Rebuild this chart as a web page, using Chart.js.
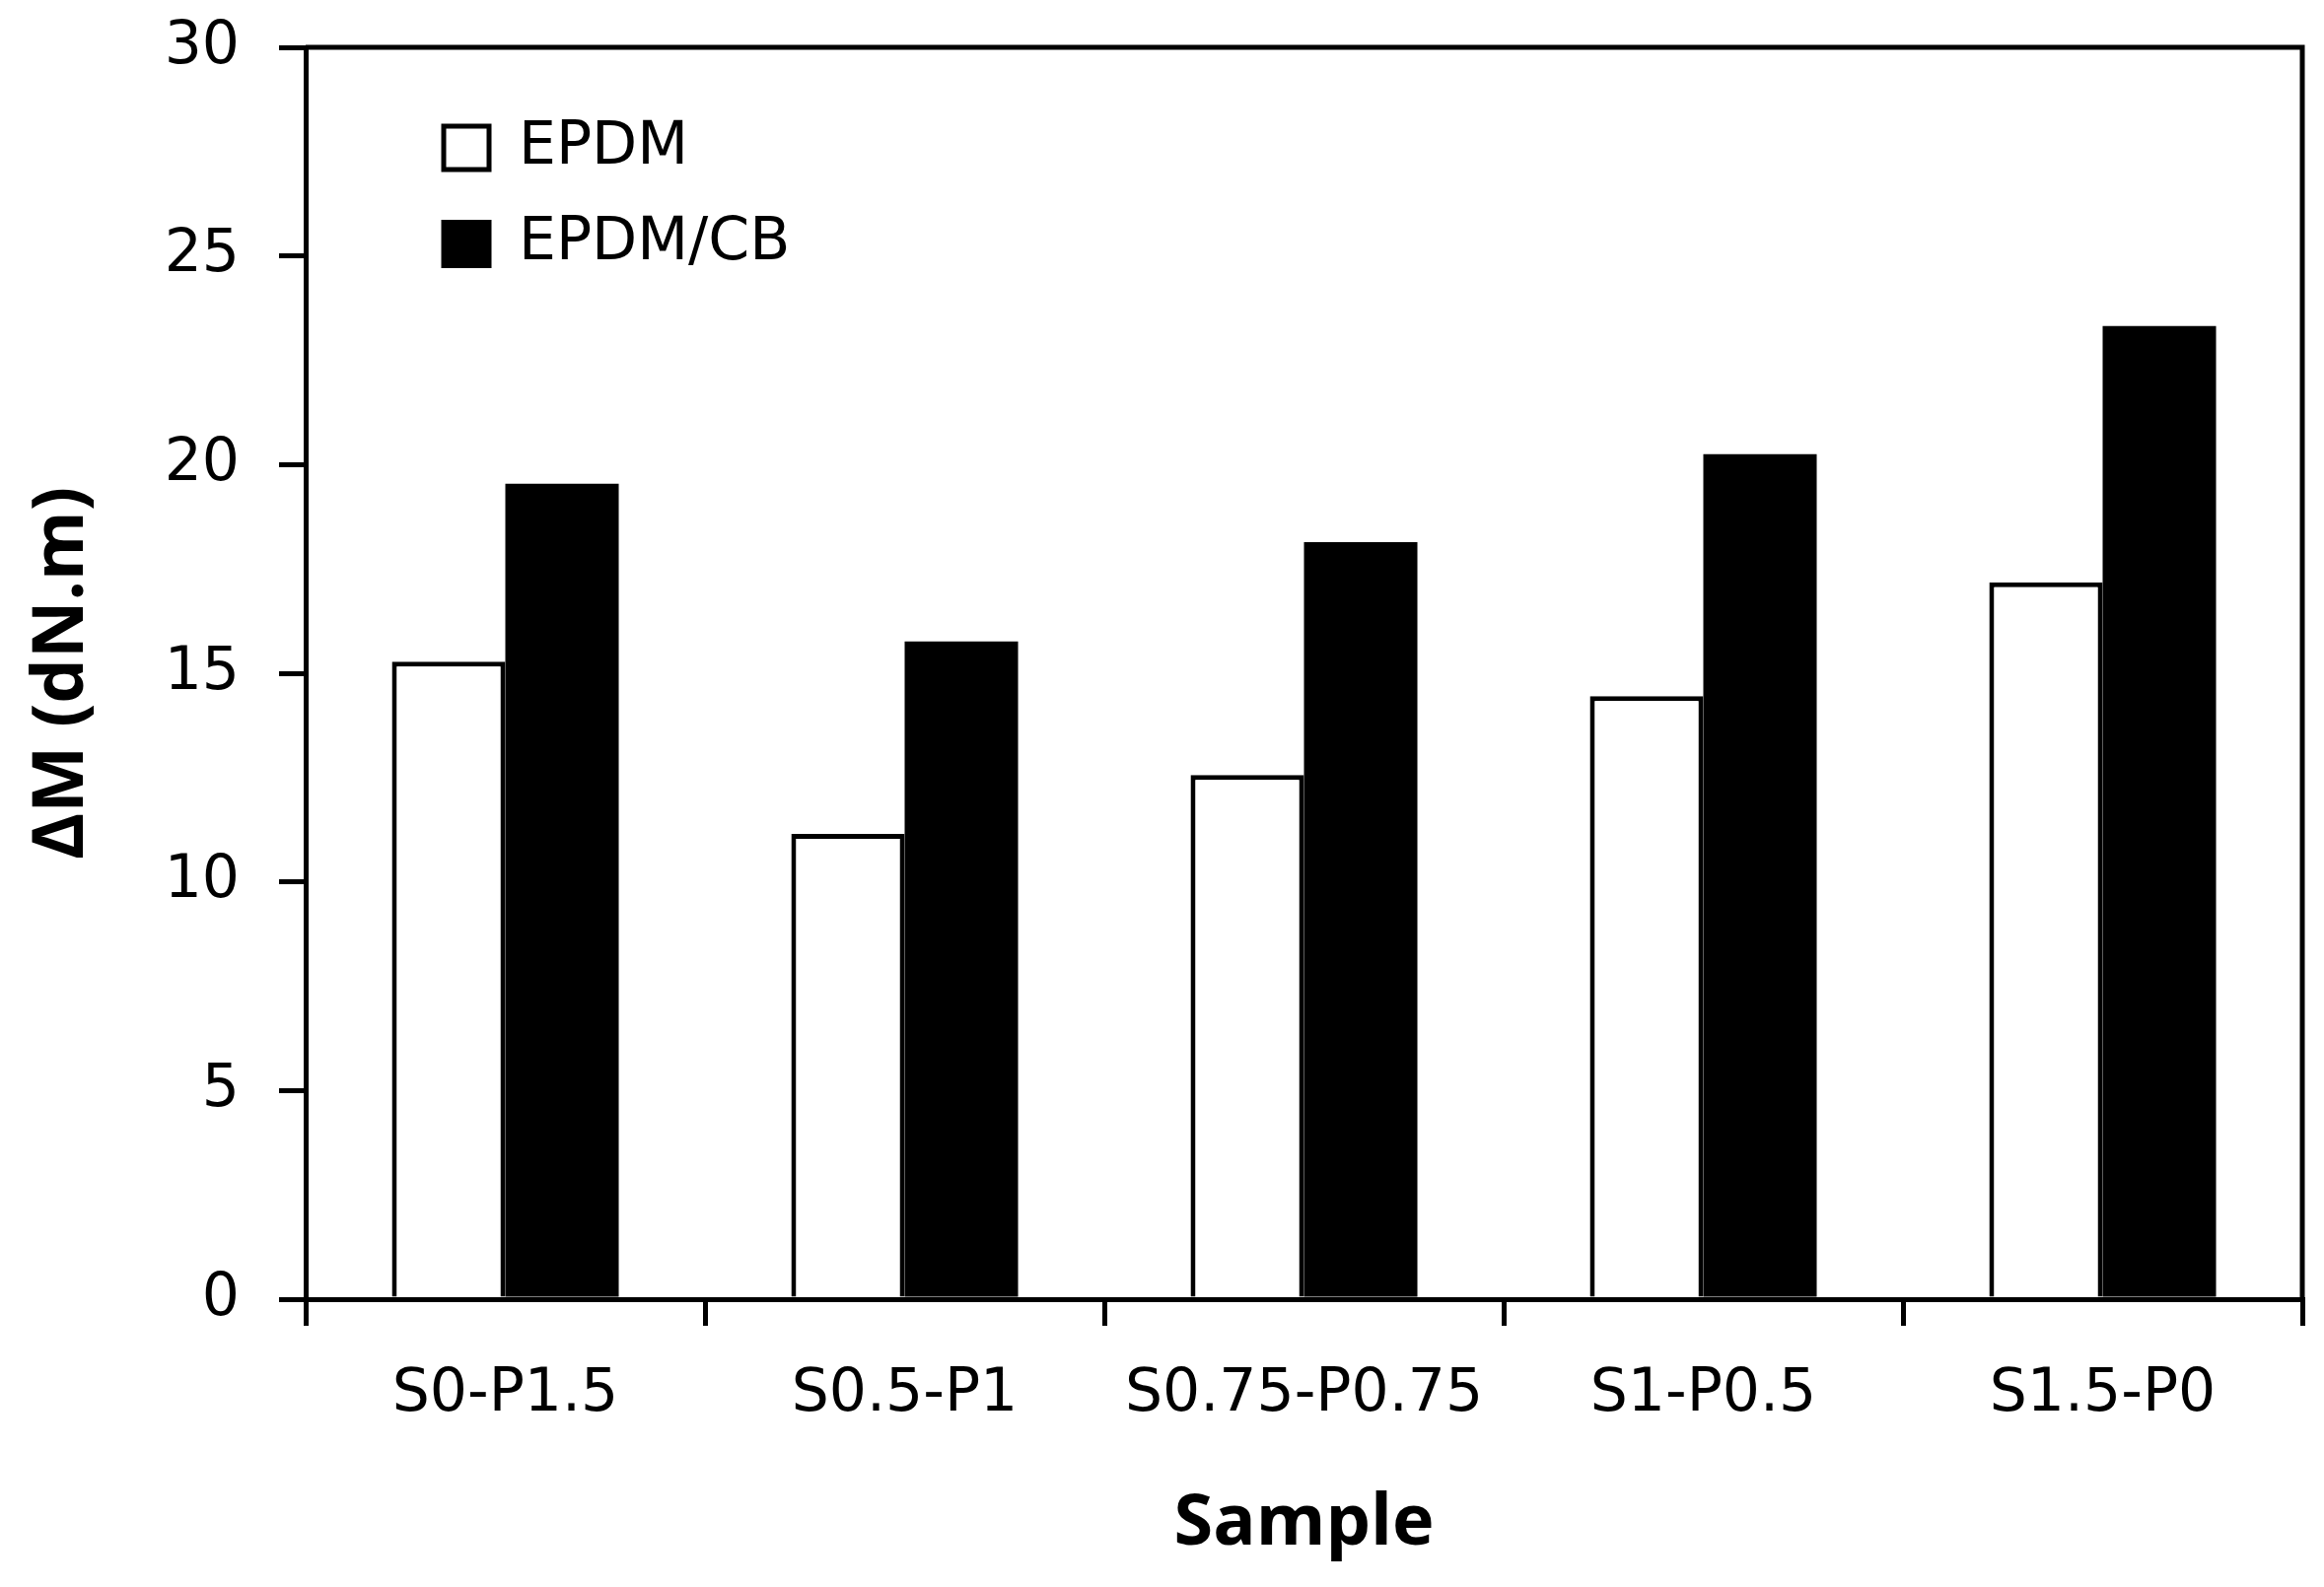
<!DOCTYPE html>
<html>
<head>
<meta charset="utf-8">
<script src="https://cdn.jsdelivr.net/npm/chart.js@4.4.1/dist/chart.umd.min.js"></script>
<style>
  html, body { margin: 0; padding: 0; background: #fff; }
  #wrap { width: 2357px; height: 1610px; }
</style>
</head>
<body>
<div id="wrap"><canvas id="c" width="2357" height="1610"></canvas></div>
<script>
// ---- data ----
const categories = ["S0-P1.5", "S0.5-P1", "S0.75-P0.75", "S1-P0.5", "S1.5-P0"];
const epdm = [15.28, 11.15, 12.56, 14.45, 17.18];
const epdmCB = [19.54, 15.76, 18.14, 20.25, 23.32];
const seriesNames = ["EPDM", "EPDM/CB"];
const yTitle = "ΔM (dN.m)";
const xTitle = "Sample";
const yMin = 0, yMax = 30, yStep = 5;

const tickFont = { family: "'DejaVu Sans'", size: 60 };
const titleFont = { family: "'Open Sans'", size: 72, weight: 'bold' };

const framePlugin = {
  id: 'frame',
  afterDatasetsDraw(chart) {
    const { ctx, chartArea: a } = chart;
    ctx.save();
    ctx.strokeStyle = '#000';
    ctx.lineWidth = 5;
    ctx.beginPath();
    ctx.moveTo(a.left, a.top);
    ctx.lineTo(a.right, a.top);
    ctx.lineTo(a.right, a.bottom);
    ctx.stroke();
    ctx.restore();
  }
};

const legendPlace = {
  id: 'legendPlace',
  afterLayout(chart) {
    const lg = chart.legend;
    if (!lg) return;
    const a = chart.chartArea;
    const pad = lg.options.labels.padding;
    lg.left = a.left + 140 - pad;
    lg.top = a.top + 72 - pad;
    lg.right = lg.left + lg.width;
    lg.bottom = a.bottom;
  }
};

new Chart(document.getElementById('c'), {
  type: 'bar',
  data: {
    labels: categories,
    datasets: [
      { label: seriesNames[0], data: epdm, backgroundColor: '#ffffff', borderColor: '#000000', borderWidth: 5 },
      { label: seriesNames[1], data: epdmCB, backgroundColor: '#000000', borderColor: '#000000', borderWidth: 0 }
    ]
  },
  options: {
    responsive: false,
    devicePixelRatio: 1,
    animation: false,
    layout: { padding: { left: 0, right: 22, top: 48, bottom: 0 } },
    datasets: { bar: { categoryPercentage: 0.568, barPercentage: 1.0, borderSkipped: 'start' } },
    plugins: {
      legend: {
        position: 'chartArea',
        align: 'start',
        labels: {
          font: tickFont, color: '#000', boxWidth: 46, boxHeight: 44, padding: 37.5,
          generateLabels(chart) {
            const items = Chart.defaults.plugins.legend.labels.generateLabels(chart);
            items.forEach(it => { it.lineWidth = 5; it.strokeStyle = '#000'; });
            return items;
          }
        }
      },
      tooltip: { enabled: false }
    },
    scales: {
      x: {
        grid: { display: true, drawOnChartArea: false, drawTicks: true, tickLength: 27, color: '#000', lineWidth: 5, offset: true },
        border: { display: true, color: '#000', width: 5 },
        ticks: { font: tickFont, color: '#000', padding: 34, maxRotation: 0, autoSkip: false },
        title: { display: true, text: xTitle, font: titleFont, color: '#000', padding: { top: 0, bottom: 20 } },
        afterFit(axis) { axis.height = 292; axis.paddingLeft = 0; axis.paddingRight = 0; }
      },
      y: {
        min: yMin, max: yMax,
        grid: { display: true, drawOnChartArea: false, drawTicks: true, tickLength: 27, color: '#000', lineWidth: 5 },
        border: { display: true, color: '#000', width: 5 },
        ticks: { stepSize: yStep, font: tickFont, color: '#000', padding: 40 },
        title: { display: true, text: yTitle, font: titleFont, color: '#000', padding: { top: 20, bottom: 0 } },
        afterFit(axis) { axis.width = 310; axis.paddingTop = 0; axis.paddingBottom = 0; }
      }
    }
  },
  plugins: [framePlugin, legendPlace]
});
</script>
</body>
</html>
